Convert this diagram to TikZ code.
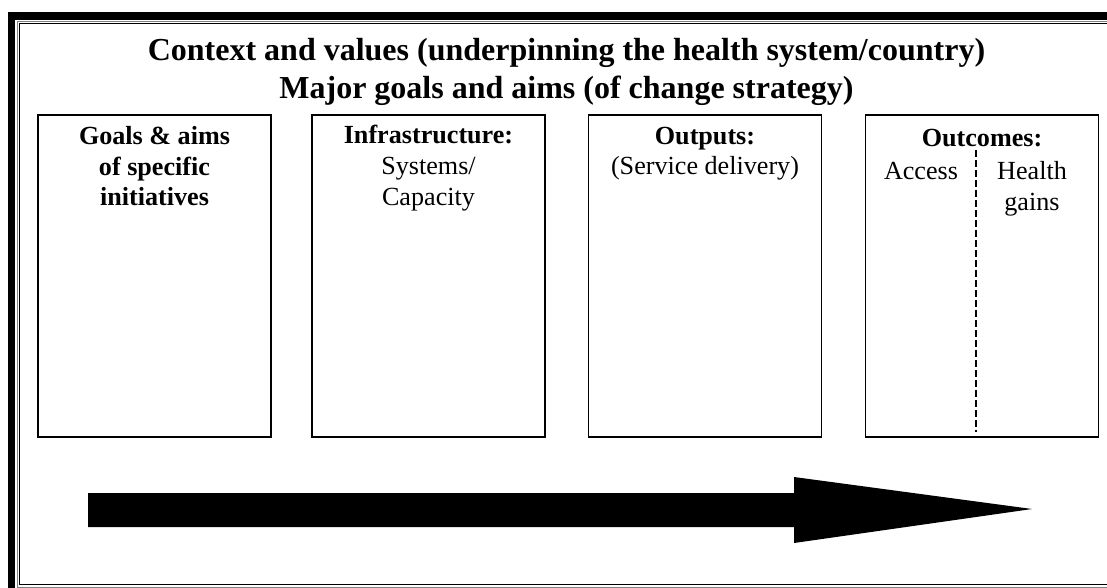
\documentclass[tikz,border=0pt]{standalone}
\usepackage{fontspec}
\setmainfont{Liberation Serif}
\usetikzlibrary{positioning}

\begin{document}
\begin{tikzpicture}[x=0.75pt, y=-0.75pt,
    stagebox/.style={draw, line width=1.2pt, minimum width=174.75pt, minimum height=241.5pt, inner sep=0pt},
    boxtext/.style={font=\fontsize{19.6}{23}\selectfont, align=center, inner sep=0pt, anchor=base},
    headtext/.style={font=\fontsize{24}{28.5}\selectfont\bfseries, align=center, inner sep=0pt, anchor=base}]
    \useasboundingbox (0,0) rectangle (1107,588);

    % page frame (thick-thin border)
    \fill (8,12) rectangle (15,588);
    \fill (8,12) rectangle (1107,20);
    \draw[gray, line width=0.5pt] (1107,21.5) -- (17,21.5) -- (17,588);
    \draw[line width=1.2pt] (1107,23.5) -- (19.5,23.5) -- (19.5,584.5) -- (1107,584.5);
    \draw[gray, line width=0.5pt] (17,587) -- (1107,587);

    % titles (base = last line)
    \node[headtext] (context) at (566.5,99) {Context and values (underpinning the health system/country)\\Major goals and aims (of change strategy)};

    % stages
    \node[stagebox] (goals) at (154.5,276) {};
    \node[stagebox] (infra) at (428.5,276) {};
    \node[stagebox] (outputs) at (705,276) {};
    \node[stagebox] (outcomes) at (982,276) {};

    \node[boxtext] (goals text) at (154.5,206) {\textbf{Goals \& aims}\\\textbf{of specific}\\\textbf{initiatives}};
    \node[boxtext] (infra text) at (428.5,205) {\textbf{Infrastructure:}\\Systems/\\Capacity};
    \node[boxtext] (outputs text) at (705,175) {\textbf{Outputs:}\\(Service delivery)};
    \node[boxtext] (outcomes text) at (982,147) {\textbf{Outcomes:}};
    \node[boxtext] (access) at (921,180) {Access};
    \node[boxtext] (health) at (1032,210) {Health\\gains};

    % split between access and health gains
    \coordinate (split top) at (976,150);
    \coordinate (split bottom) at (976,432);
    \draw[line width=1.5pt, dash pattern=on 5pt off 2.5pt] (split top) -- (split bottom);

    % big arrow
    \fill (88,493) -- (794,493) -- (794,477) -- (1032,509) -- (794,543) -- (794,527) -- (88,527) -- cycle;

\end{tikzpicture}
\end{document}
